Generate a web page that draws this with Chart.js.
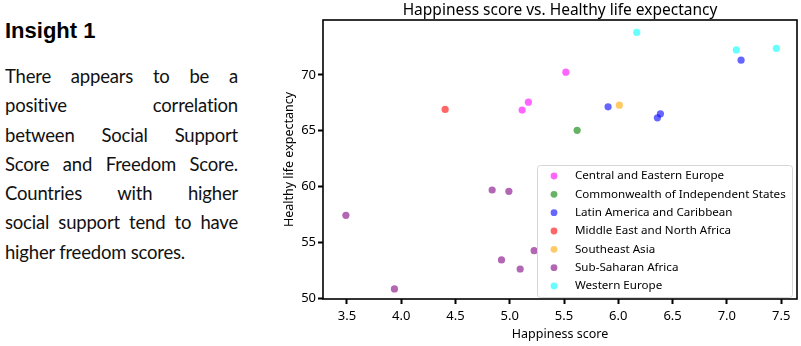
<!DOCTYPE html>
<html>
<head>
<meta charset="utf-8">
<script src="https://cdn.jsdelivr.net/npm/chart.js@4.4.1/dist/chart.umd.min.js"></script>
<style>
  html, body { margin:0; padding:0; background:#fff; }
  body { width:801px; height:346px; position:relative; overflow:hidden; }
  #insight { position:absolute; left:5px; top:0; width:233px; }
  #insight h2 { font-family:"Liberation Sans", Arial, sans-serif; font-weight:bold; font-size:22px; margin:0; position:absolute; top:18px; left:0; white-space:nowrap; }
  #insight .txt { position:absolute; top:62px; left:0; width:233px; font-family:"Lato", sans-serif; font-size:18.5px; letter-spacing:-0.2px; line-height:29.3px; color:#111; }
  #insight .ln { display:block; text-align:justify; text-align-last:justify; white-space:nowrap; }
  #insight .ln.last { text-align-last:left; }
  #wrap { position:absolute; left:270px; top:0; width:531px; height:346px; }
</style>
</head>
<body>
<div id="insight">
  <h2>Insight 1</h2>
  <div class="txt">
    <span class="ln">There appears to be a</span>
    <span class="ln">positive correlation</span>
    <span class="ln">between Social Support</span>
    <span class="ln">Score and Freedom Score.</span>
    <span class="ln">Countries with higher</span>
    <span class="ln">social support tend to have</span>
    <span class="ln last">higher freedom scores.</span>
  </div>
</div>
<div id="wrap"><canvas id="c" width="531" height="346"></canvas></div>
<script>
const chartTitle = 'Happiness score vs. Healthy life expectancy';
const regions = ["Central and Eastern Europe","Commonwealth of Independent States","Latin America and Caribbean","Middle East and North Africa","Southeast Asia","Sub-Saharan Africa","Western Europe"];
const regionColors = ["rgba(255,0,255,0.6)","rgba(0,128,0,0.6)","rgba(0,0,255,0.6)","rgba(255,0,0,0.6)","rgba(255,165,0,0.6)","rgba(128,0,128,0.6)","rgba(0,255,255,0.6)"];
const happinessCEE = [5.517, 5.172, 5.114];
const lifeExpCEE   = [70.24, 67.56, 66.85];
const happinessCIS = [5.621];
const lifeExpCIS   = [65.04];
const happinessLAC = [7.131, 5.906, 6.388, 6.360];
const lifeExpLAC   = [71.31, 67.14, 66.52, 66.16];
const happinessMENA = [4.405];
const lifeExpMENA   = [66.91];
const happinessSEA = [6.010];
const lifeExpSEA   = [67.29];
const happinessSSA = [4.838, 4.992, 3.491, 4.924, 5.096, 3.938, 5.225];
const lifeExpSSA   = [59.71, 59.59, 57.45, 53.46, 52.65, 50.87, 54.29];
const happinessWE = [6.170, 7.087, 7.456];
const lifeExpWE   = [73.79, 72.23, 72.36];
const xTicks = [3.5, 4.0, 4.5, 5.0, 5.5, 6.0, 6.5, 7.0, 7.5];
const yTicks = [50, 55, 60, 65, 70];

const xs = [happinessCEE, happinessCIS, happinessLAC, happinessMENA, happinessSEA, happinessSSA, happinessWE];
const ys = [lifeExpCEE, lifeExpCIS, lifeExpLAC, lifeExpMENA, lifeExpSEA, lifeExpSSA, lifeExpWE];
const datasets = regions.map((r, i) => ({
  label: r,
  data: xs[i].map((x, j) => ({x: x, y: ys[i][j]})),
  backgroundColor: regionColors[i],
  borderWidth: 0,
  pointRadius: 3.6
}));

const FONT = '"Noto Sans", "DejaVu Sans", sans-serif';

const frame = {
  id: 'frame',
  afterDatasetsDraw(chart) {
    const {ctx, chartArea: a} = chart;
    ctx.save();
    ctx.strokeStyle = '#000';
    ctx.lineWidth = 1.6;
    ctx.strokeRect(a.left, a.top, a.right - a.left, a.bottom - a.top);
    // title centred over the plot area
    ctx.fillStyle = '#000';
    ctx.font = '15.5px ' + FONT;
    ctx.textAlign = 'center';
    ctx.textBaseline = 'middle';
    ctx.fillText(chartTitle, (a.left + a.right) / 2, a.top - 9);
    // legend
    const w = 255, h = 132;
    const lx = a.right - 5 - w, ly = a.bottom - 2 - h;
    ctx.beginPath();
    ctx.roundRect(lx + 0.5, ly + 0.5, w, h, 3);
    ctx.fillStyle = 'rgba(255,255,255,0.85)';
    ctx.fill();
    ctx.strokeStyle = '#d6d6d6';
    ctx.lineWidth = 1;
    ctx.stroke();
    ctx.font = '11.6px ' + FONT;
    ctx.textBaseline = 'middle';
    ctx.textAlign = 'left';
    chart.data.datasets.forEach((ds, i) => {
      const cy = ly + 11 + i * 18.33;
      ctx.beginPath();
      ctx.arc(lx + 17, cy, 3.4, 0, Math.PI * 2);
      ctx.fillStyle = ds.backgroundColor;
      ctx.fill();
      ctx.fillStyle = '#000';
      ctx.fillText(ds.label, lx + 38, cy);
    });
    ctx.restore();
  }
};

new Chart(document.getElementById('c'), {
  type: 'scatter',
  data: { datasets },
  options: {
    responsive: false,
    animation: false,
    layout: { padding: { left: 0, right: 4, top: 20, bottom: 0 } },
    plugins: {
      legend: { display: false },
      tooltip: { enabled: false },
      title: { display: false }
    },
    scales: {
      x: {
        type: 'linear',
        min: 3.28, max: 7.646,
        afterBuildTicks: s => { s.ticks = xTicks.map(v => ({value: v})); },
        afterFit: s => { s.height = 47; },
        grid: { display: true, drawOnChartArea: false, drawTicks: true, tickLength: 5, tickWidth: 2, tickColor: '#000' },
        border: { display: false },
        ticks: { color: '#000', padding: 4, maxRotation: 0, font: { family: FONT, size: 13 }, callback: v => v.toFixed(1) },
        title: { display: true, text: 'Happiness score', color: '#000', font: { family: FONT, size: 12.5 }, padding: { top: 0, bottom: 4 } }
      },
      y: {
        type: 'linear',
        min: 49.97, max: 74.9,
        afterBuildTicks: s => { s.ticks = yTicks.map(v => ({value: v})); },
        afterFit: s => { s.width = 53; },
        grid: { display: true, drawOnChartArea: false, drawTicks: true, tickLength: 5, tickWidth: 2, tickColor: '#000' },
        border: { display: false },
        ticks: { color: '#000', padding: 2, font: { family: FONT, size: 13 }, callback: v => String(v) },
        title: { display: true, text: 'Healthy life expectancy', color: '#000', font: { family: FONT, size: 12.5 }, padding: { top: 12, bottom: 0 } }
      }
    }
  },
  plugins: [frame]
});
</script>
</body>
</html>
